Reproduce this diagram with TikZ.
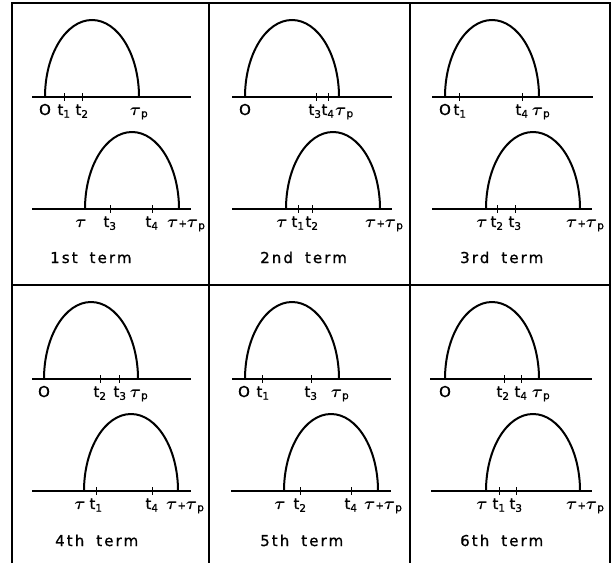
\documentclass[tikz,border=0pt]{standalone}
\usepackage{fontspec}
\usepackage{bm}
\usepackage{tikz}
\usetikzlibrary{positioning}
\newfontfamily\lettering{DejaVu Sans}[FakeBold=1]
\newfontfamily\termfont{DejaVu Sans}[LetterSpace=14, FakeBold=1]
\newcommand{\tausym}{{\fontsize{19}{19}\selectfont$\bm{\tau}$}}
\newcommand{\taup}{\tausym\textsubscript{p}}
\newcommand{\tauend}{\tausym{\fontsize{10}{10}\selectfont+}\tausym\textsubscript{p}}
\tikzset{
  frame/.style={line width=2pt},
  axis/.style={line width=2pt},
  pulse/.style={line width=2pt, x radius=47, y radius=77},
  tick/.style={line width=1pt},
  lbl/.style={anchor=base, inner sep=0pt, font=\lettering\fontsize{15}{17}\selectfont},
  term/.style={anchor=base west, inner sep=0pt, font=\termfont\fontsize{15}{17}\selectfont}
}

\begin{document}
\begin{tikzpicture}[x=1pt, y=-1pt]
    \useasboundingbox (0,0) rectangle (615,563);
    % frame
    \draw[frame] (12,563) -- (12,3) -- (610,3) -- (610,563);
    \draw[frame] (209,3) -- (209,563);
    \draw[frame] (410,3) -- (410,563);
    \draw[frame] (12,285) -- (610,285);

    % 1st term
    \draw[axis] (32,97) -- (191,97);
    \draw[pulse] (45,97) arc[start angle=-180, end angle=0];
    \draw[tick] (64,93) -- (64,101);
    \draw[tick] (82,93) -- (82,101);
    \node[lbl] (a-o) at (45,115) {O};
    \node[lbl] (a-t1) at (64,115) {t\textsubscript{1}};
    \node[lbl] (a-t2) at (82,115) {t\textsubscript{2}};
    \node[lbl] (a-tp) at (139,115) {\taup};
    \draw[axis] (32,209) -- (191,209);
    \draw[pulse] (85,209) arc[start angle=-180, end angle=0];
    \draw[tick] (110,205) -- (110,213);
    \draw[tick] (152,205) -- (152,213);
    \node[lbl, anchor=base east] (a-tau) at (87,227) {\tausym};
    \node[lbl] (a-t3) at (110,227) {t\textsubscript{3}};
    \node[lbl] (a-t4) at (152,227) {t\textsubscript{4}};
    \node[lbl, anchor=base west] (a-end) at (167,227) {\tauend};
    \node[term] (a-term) at (50,263) {1st\hspace{12pt}term};

    % 2nd term
    \draw[axis] (232,97) -- (392,97);
    \draw[pulse] (245,97) arc[start angle=-180, end angle=0];
    \draw[tick] (316,93) -- (316,101);
    \draw[tick] (328,93) -- (328,101);
    \node[lbl] (b-o) at (245,115) {O};
    \node[lbl] (b-t3) at (315,115) {t\textsubscript{3}};
    \node[lbl] (b-t4) at (328,115) {t\textsubscript{4}};
    \node[lbl, anchor=base west] (b-tp) at (335,115) {\taup};
    \draw[axis] (232,209) -- (392,209);
    \draw[pulse] (286,209) arc[start angle=-180, end angle=0];
    \draw[tick] (298,205) -- (298,213);
    \draw[tick] (312,205) -- (312,213);
    \node[lbl, anchor=base east] (b-tau) at (288,227) {\tausym};
    \node[lbl] (b-t1) at (298,227) {t\textsubscript{1}};
    \node[lbl] (b-t2) at (312,227) {t\textsubscript{2}};
    \node[lbl, anchor=base west] (b-end) at (365,227) {\tauend};
    \node[term] (b-term) at (260,263) {2nd\hspace{12pt}term};

    % 3rd term
    \draw[axis] (432,97) -- (593,97);
    \draw[pulse] (445,97) arc[start angle=-180, end angle=0];
    \draw[tick] (459,93) -- (459,101);
    \draw[tick] (522,93) -- (522,101);
    \node[lbl] (c-o) at (445,115) {O};
    \node[lbl] (c-t1) at (460,115) {t\textsubscript{1}};
    \node[lbl] (c-t4) at (522,115) {t\textsubscript{4}};
    \node[lbl] (c-tp) at (541,115) {\taup};
    \draw[axis] (432,209) -- (592,209);
    \draw[pulse] (486,209) arc[start angle=-180, end angle=0];
    \draw[tick] (497,205) -- (497,213);
    \draw[tick] (515,205) -- (515,213);
    \node[lbl, anchor=base east] (c-tau) at (488,227) {\tausym};
    \node[lbl] (c-t2) at (497,227) {t\textsubscript{2}};
    \node[lbl] (c-t3) at (515,227) {t\textsubscript{3}};
    \node[lbl, anchor=base west] (c-end) at (566,227) {\tauend};
    \node[term] (c-term) at (460,263) {3rd\hspace{12pt}term};

    % 4th term
    \draw[axis] (32,379) -- (191,379);
    \draw[pulse] (44,379) arc[start angle=-180, end angle=0];
    \draw[tick] (100,375) -- (100,383);
    \draw[tick] (119,375) -- (119,383);
    \node[lbl] (d-o) at (44,397) {O};
    \node[lbl] (d-t2) at (100,397) {t\textsubscript{2}};
    \node[lbl] (d-t3) at (120,397) {t\textsubscript{3}};
    \node[lbl] (d-tp) at (139,397) {\taup};
    \draw[axis] (32,491) -- (191,491);
    \draw[pulse] (84,491) arc[start angle=-180, end angle=0];
    \draw[tick] (96,487) -- (96,495);
    \draw[tick] (152,487) -- (152,495);
    \node[lbl, anchor=base east] (d-tau) at (86,509) {\tausym};
    \node[lbl] (d-t1) at (96,509) {t\textsubscript{1}};
    \node[lbl] (d-t4) at (152,509) {t\textsubscript{4}};
    \node[lbl, anchor=base west] (d-end) at (166,509) {\tauend};
    \node[term] (d-term) at (55,546) {4th\hspace{12pt}term};

    % 5th term
    \draw[axis] (232,379) -- (391,379);
    \draw[pulse] (245,379) arc[start angle=-180, end angle=0];
    \draw[tick] (262,375) -- (262,383);
    \draw[tick] (311,375) -- (311,383);
    \node[lbl] (e-o) at (244,397) {O};
    \node[lbl] (e-t1) at (263,397) {t\textsubscript{1}};
    \node[lbl] (e-t3) at (311,397) {t\textsubscript{3}};
    \node[lbl] (e-tp) at (340,397) {\taup};
    \draw[axis] (231,491) -- (391,491);
    \draw[pulse] (284,491) arc[start angle=-180, end angle=0];
    \draw[tick] (300,487) -- (300,495);
    \draw[tick] (351,487) -- (351,495);
    \node[lbl, anchor=base east] (e-tau) at (286,509) {\tausym};
    \node[lbl] (e-t2) at (300,509) {t\textsubscript{2}};
    \node[lbl] (e-t4) at (351,509) {t\textsubscript{4}};
    \node[lbl, anchor=base west] (e-end) at (364,509) {\tauend};
    \node[term] (e-term) at (260,546) {5th\hspace{12pt}term};

    % 6th term
    \draw[axis] (430,379) -- (592,379);
    \draw[pulse] (445,379) arc[start angle=-180, end angle=0];
    \draw[tick] (504,375) -- (504,383);
    \draw[tick] (521,375) -- (521,383);
    \node[lbl] (f-o) at (445,397) {O};
    \node[lbl] (f-t2) at (503,397) {t\textsubscript{2}};
    \node[lbl] (f-t4) at (521,397) {t\textsubscript{4}};
    \node[lbl] (f-tp) at (541,397) {\taup};
    \draw[axis] (431,491) -- (592,491);
    \draw[pulse] (486,491) arc[start angle=-180, end angle=0];
    \draw[tick] (499,487) -- (499,495);
    \draw[tick] (516,487) -- (516,495);
    \node[lbl, anchor=base east] (f-tau) at (488,509) {\tausym};
    \node[lbl] (f-t1) at (499,509) {t\textsubscript{1}};
    \node[lbl] (f-t3) at (516,509) {t\textsubscript{3}};
    \node[lbl, anchor=base west] (f-end) at (566,509) {\tauend};
    \node[term] (f-term) at (460,546) {6th\hspace{12pt}term};
\end{tikzpicture}
\end{document}
